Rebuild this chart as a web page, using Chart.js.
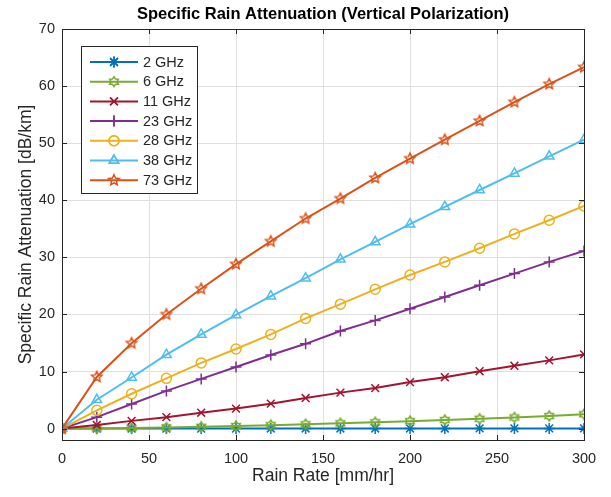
<!DOCTYPE html>
<html>
<head>
<meta charset="utf-8">
<script src="https://cdn.jsdelivr.net/npm/chart.js@4/dist/chart.umd.min.js"></script>
<style>
  html, body { margin: 0; padding: 0; background: #ffffff; }
  #wrap { width: 611px; height: 497px; position: relative; }
</style>
</head>
<body>
<div id="wrap"><canvas id="chart" width="611" height="497"></canvas></div>
<script>
// Rain rate samples [mm/hr]
const rainRate = [0, 20, 40, 60, 80, 100, 120, 140, 160, 180, 200, 220, 240, 260, 280, 300];

// Specific attenuation [dB/km] per carrier frequency
const att2GHz  = [0, 0.00, 0.01, 0.01, 0.01, 0.01, 0.02, 0.02, 0.02, 0.02, 0.02, 0.02, 0.03, 0.03, 0.03, 0.03];
const att6GHz  = [0, 0.03, 0.10, 0.20, 0.32, 0.45, 0.60, 0.76, 0.93, 1.10, 1.30, 1.50, 1.72, 1.95, 2.20, 2.50];
const att11GHz = [0, 0.63, 1.35, 2.00, 2.78, 3.50, 4.36, 5.35, 6.30, 7.10, 8.15, 9.00, 10.05, 11.00, 11.95, 13.00];
const att23GHz = [0, 2.00, 4.30, 6.60, 8.70, 10.80, 12.90, 14.85, 17.10, 18.95, 21.00, 23.05, 25.10, 27.15, 29.20, 31.10];
const att28GHz = [0, 3.20, 6.10, 8.80, 11.50, 13.95, 16.50, 19.30, 21.80, 24.40, 26.90, 29.20, 31.60, 34.10, 36.50, 39.00];
const att38GHz = [0, 5.05, 8.95, 12.95, 16.50, 19.90, 23.20, 26.35, 29.65, 32.70, 35.80, 38.85, 41.80, 44.70, 47.70, 50.60];
const att73GHz = [0, 9.05, 14.95, 20.00, 24.50, 28.80, 32.80, 36.80, 40.30, 43.90, 47.30, 50.60, 53.90, 57.20, 60.35, 63.30];

const seriesLabels = ['2 GHz', '6 GHz', '11 GHz', '23 GHz', '28 GHz', '38 GHz', '73 GHz'];
const seriesValues = [att2GHz, att6GHz, att11GHz, att23GHz, att28GHz, att38GHz, att73GHz];

const xTicks = [0, 50, 100, 150, 200, 250, 300];
const yTicks = [0, 10, 20, 30, 40, 50, 60, 70];

const colors  = ['#0072BD', '#77AC30', '#A2142F', '#7E2F8E', '#EDB120', '#4DBEEE', '#D95319'];
const markers = ['star', 'hexagram', 'crossRot', 'cross', 'circle', 'triangle', 'pentagram'];

const FONT = "'Liberation Sans', Arial, Helvetica, sans-serif";
const AXIS_COLOR = '#262626';

// Outline star path with n points
function starPath(ctx, cx, cy, rOuter, rInner, n) {
  ctx.beginPath();
  for (let i = 0; i < 2 * n; i++) {
    const r = i % 2 === 0 ? rOuter : rInner;
    const a = -Math.PI / 2 + i * Math.PI / n;
    const px = cx + r * Math.cos(a), py = cy + r * Math.sin(a);
    if (i === 0) ctx.moveTo(px, py); else ctx.lineTo(px, py);
  }
  ctx.closePath();
}

function drawMarker(ctx, style, x, y, color) {
  ctx.save();
  ctx.strokeStyle = color;
  ctx.lineWidth = 1.5;
  ctx.fillStyle = 'rgba(0,0,0,0)';
  if (style === 'hexagram') {
    starPath(ctx, x, y, 5, 3, 6); ctx.stroke();
  } else if (style === 'pentagram') {
    starPath(ctx, x, y, 5.5, 2.6, 5); ctx.stroke();
  } else {
    Chart.helpers.drawPoint(ctx, {pointStyle: style, radius: style === 'circle' ? 5 : 5.5, rotation: 0, borderWidth: 1.5}, x, y);
    ctx.stroke();
  }
  ctx.restore();
}

// Off-screen images for marker shapes Chart.js lacks
function starImage(style, color) {
  const c = document.createElement('canvas');
  c.width = 16; c.height = 16;
  drawMarker(c.getContext('2d'), style, 8, 8, color);
  return c;
}

const datasets = seriesLabels.map((label, i) => {
  const style = markers[i];
  const ps = (style === 'hexagram' || style === 'pentagram') ? starImage(style, colors[i]) : style;
  return {
    label: label,
    data: rainRate.map((r, k) => ({x: r, y: seriesValues[i][k]})),
    borderColor: colors[i],
    backgroundColor: 'rgba(0,0,0,0)',
    borderWidth: 2,
    pointStyle: ps,
    pointRadius: style === 'circle' ? 5 : 5.5,
    pointBorderWidth: 1.5,
    pointBorderColor: colors[i],
    pointBackgroundColor: 'rgba(0,0,0,0)',
    tension: 0,
    order: seriesLabels.length - i
  };
});

// Title, box frame with inward ticks, and the legend inset
const framePlugin = {
  id: 'frame',
  afterDatasetsDraw(chart) {
    const {ctx, chartArea: a, scales} = chart;
    ctx.save();
    ctx.strokeStyle = AXIS_COLOR;
    ctx.lineWidth = 1;
    ctx.strokeRect(Math.round(a.left) + 0.5, Math.round(a.top) + 0.5,
                   Math.round(a.right - a.left), Math.round(a.bottom - a.top));
    const tl = 5;
    ctx.beginPath();
    xTicks.forEach(v => {
      const px = Math.round(scales.x.getPixelForValue(v)) + 0.5;
      ctx.moveTo(px, a.bottom); ctx.lineTo(px, a.bottom - tl);
      ctx.moveTo(px, a.top); ctx.lineTo(px, a.top + tl);
    });
    yTicks.forEach(v => {
      const py = Math.round(scales.y.getPixelForValue(v)) + 0.5;
      ctx.moveTo(a.left, py); ctx.lineTo(a.left + tl, py);
      ctx.moveTo(a.right, py); ctx.lineTo(a.right - tl, py);
    });
    ctx.stroke();

    // Title
    ctx.fillStyle = '#000000';
    ctx.font = "bold 16.5px " + FONT;
    ctx.textAlign = 'center';
    ctx.textBaseline = 'middle';
    ctx.fillText('Specific Rain Attenuation (Vertical Polarization)', (a.left + a.right) / 2, 14);

    // Legend
    const lx = 81, ly = 46, lw = 116, lh = 147;
    ctx.fillStyle = '#ffffff';
    ctx.fillRect(lx, ly, lw, lh);
    ctx.strokeStyle = AXIS_COLOR;
    ctx.strokeRect(lx + 0.5, ly + 0.5, lw, lh);
    ctx.font = "14.5px " + FONT;
    ctx.textAlign = 'left';
    seriesLabels.forEach((lab, i) => {
      const cy = 62 + i * 19.7;
      ctx.strokeStyle = colors[i];
      ctx.lineWidth = 2;
      ctx.beginPath();
      ctx.moveTo(90, cy); ctx.lineTo(138, cy);
      ctx.stroke();
      drawMarker(ctx, markers[i], 114, cy, colors[i]);
      ctx.fillStyle = '#262626';
      ctx.fillText(lab, 143, cy + 0.5);
    });
    ctx.restore();
  }
};

new Chart(document.getElementById('chart'), {
  type: 'line',
  data: {datasets: datasets},
  plugins: [framePlugin],
  options: {
    responsive: false,
    animation: false,
    events: [],
    layout: {padding: {top: 29, right: 27, left: 0, bottom: 0}},
    plugins: {legend: {display: false}, tooltip: {enabled: false}, title: {display: false}},
    scales: {
      x: {
        type: 'linear',
        min: 0, max: 300,
        afterBuildTicks: axis => { axis.ticks = xTicks.map(v => ({value: v})); },
        afterFit: axis => { axis.height = 57; },
        grid: {color: '#dfdfdf', lineWidth: 1, drawTicks: false},
        border: {display: false},
        ticks: {color: '#262626', font: {family: FONT, size: 14.5}, padding: 10, maxRotation: 0},
        title: {display: true, text: 'Rain Rate [mm/hr]', color: '#262626',
                font: {family: FONT, size: 17.5}, padding: {top: 0, bottom: 10}}
      },
      y: {
        type: 'linear',
        min: -2, max: 70,
        afterBuildTicks: axis => { axis.ticks = yTicks.map(v => ({value: v})); },
        afterFit: axis => { axis.width = 62; },
        grid: {color: '#dfdfdf', lineWidth: 1, drawTicks: false},
        border: {display: false},
        ticks: {color: '#262626', font: {family: FONT, size: 14.5}, padding: 7},
        title: {display: true, text: 'Specific Rain Attenuation [dB/km]', color: '#262626',
                font: {family: FONT, size: 17.5}, padding: {top: 16, bottom: 0}}
      }
    }
  }
});
</script>
</body>
</html>
